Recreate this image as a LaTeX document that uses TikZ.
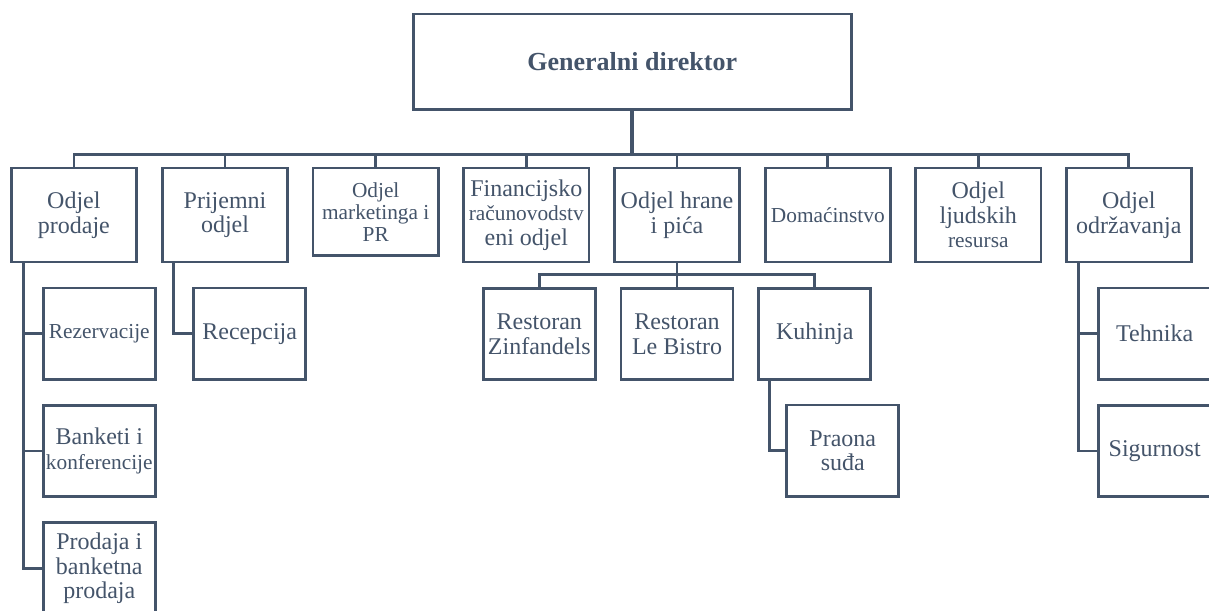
\documentclass[tikz,border=0pt]{standalone}
\usepackage{fontspec}
\setmainfont{Liberation Serif}
\definecolor{tx}{HTML}{44546A}
\newcommand\sm[1]{{\fontsize{16}{18.5}\selectfont #1}}
\begin{document}
\begin{tikzpicture}[x=0.75pt,y=-0.75pt,
  box/.style={draw=tx, line width=2.1pt, fill=white, text=tx, align=center, inner sep=1pt,
    font=\fontsize{18}{18.5}\selectfont},
  lvl/.style={box, minimum width=94pt, minimum height=70.5pt},
  sub/.style={box, minimum width=84pt, minimum height=68.5pt},
  conn/.style={draw=tx, line width=2pt}]
\useasboundingbox (0,0) rectangle (1209,610);
\clip (0,0) rectangle (1209,610);
% top
\node[box, minimum width=328.5pt, minimum height=71.5pt, font=\fontsize{19.5}{22}\selectfont\bfseries] (gd) at (632.2,61.7) {Generalni direktor};
% level 1
\node[lvl] (b1) at (73.85,215) {Odjel\\prodaje};
\node[lvl] (b2) at (225,215) {Prijemni\\odjel};
\node[lvl, minimum height=65.5pt, font=\fontsize{16}{16.5}\selectfont] (b3) at (375.7,211.7) {Odjel\\marketinga i\\PR};
\node[lvl] (b4) at (526.3,215) {Financijsko\\\sm{računovodstv}\\eni odjel};
\node[lvl] (b5) at (677,215) {Odjel hrane\\i pića};
\node[lvl] (b6) at (827.8,215) {\sm{Domaćinstvo}};
\node[lvl] (b7) at (978.3,215) {Odjel\\ljudskih\\\sm{resursa}};
\node[lvl] (b8) at (1128.8,215) {Odjel\\održavanja};
% level 2
\node[sub] (rez) at (99.3,333.7) {\sm{Rezervacije}};
\node[sub] (ban) at (99.3,451) {Banketi i\\\sm{konferencije}};
\node[sub] (pro) at (99.3,568.3) {Prodaja i\\banketna\\prodaja};
\node[sub] (rec) at (249.7,333.7) {Recepcija};
\node[sub] (zin) at (539.3,334) {Restoran\\Zinfandels};
\node[sub] (bis) at (677,334) {Restoran\\Le Bistro};
\node[sub] (kuh) at (814.8,334) {Kuhinja};
\node[sub] (pra) at (842.8,450.7) {Praona\\suđa};
\node[sub] (teh) at (1154.7,333.7) {Tehnika};
\node[sub] (sig) at (1154.7,451) {Sigurnost};
% helper coordinates
\coordinate (bar) at (0,154.5);
\coordinate (bar2) at (0,274.3);
\coordinate (v1) at (23.3,0);
\coordinate (v2) at (173.3,0);
\coordinate (v3) at (769.3,0);
\coordinate (v4) at (1078.3,0);
% connectors
\draw[conn, line width=3pt] (gd.south) -- (gd.south |- bar);
\foreach \n in {b1,b2,b3,b4,b5,b6,b7,b8}
  \draw[conn] (gd.south |- bar) -| (\n.north);
\foreach \n in {zin,bis,kuh}
  \draw[conn] (b5.south) -- (b5.south |- bar2) -| (\n.north);
\foreach \n in {rez,ban,pro}
  \draw[conn] (b1.south -| v1) |- (\n.west);
\draw[conn] (b2.south -| v2) |- (rec.west);
\draw[conn] (kuh.south -| v3) |- (pra.west);
\foreach \n in {teh,sig}
  \draw[conn] (b8.south -| v4) |- (\n.west);
\end{tikzpicture}
\end{document}
